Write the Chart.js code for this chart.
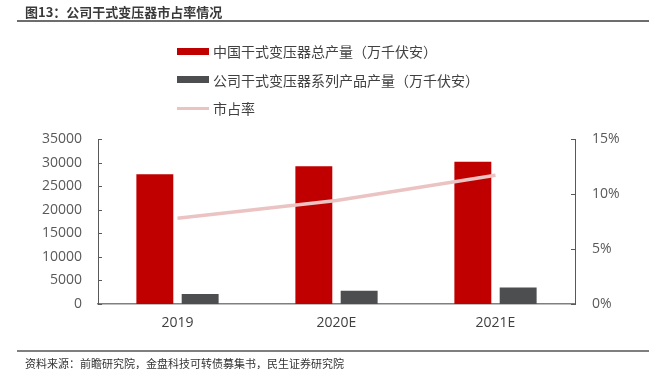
<!DOCTYPE html>
<html>
<head>
<meta charset="utf-8">
<script src="https://cdn.jsdelivr.net/npm/chart.js@4/dist/chart.umd.min.js"></script>
<style>
  html, body { margin: 0; padding: 0; background: #fff; }
  body { width: 649px; height: 369px; position: relative; overflow: hidden;
         font-family: "Noto Sans CJK SC", "Noto Sans", sans-serif; }
  #title { position: absolute; left: 25px; top: 2px; font-size: 13px; font-weight: bold; color: #3a3a3a; }
  #title-rule { position: absolute; left: 17px; right: 0; top: 20px; height: 2px; background: #6d6d6d; }
  #foot-rule { position: absolute; left: 17px; right: 0; top: 350px; height: 1.5px; background: #7f7f7f; }
  #foot { position: absolute; left: 25px; top: 355px; font-size: 11px; color: #333; }
  #legend { position: absolute; left: 177px; top: 37px; font-size: 14px; color: #404040; }
  #legend .row { height: 28.5px; display: flex; align-items: center; }
  #legend .sw { width: 32px; margin-right: 4px; }
  #wrap { position: absolute; left: 0; top: 0; width: 649px; height: 369px; }
</style>
</head>
<body>
<div id="wrap"><canvas id="c" width="649" height="369"></canvas></div>
<div id="title">图13：公司干式变压器市占率情况</div>
<div id="title-rule"></div>
<div id="legend"></div>
<div id="foot-rule"></div>
<div id="foot">资料来源：前瞻研究院，金盘科技可转债募集书，民生证券研究院</div>
<script>
// data
const years = ['2019', '2020E', '2021E'];
const chinaOutput = [27500, 29200, 30200];   // 中国干式变压器总产量（万千伏安）
const companyOutput = [2100, 2800, 3500];    // 公司干式变压器系列产品产量（万千伏安）
const marketShare = [7.8, 9.4, 11.7];        // 市占率 %
const names = ['中国干式变压器总产量（万千伏安）', '公司干式变压器系列产品产量（万千伏安）', '市占率'];

const RED = '#c00000', GREY = '#4d4e50', PINK = '#ebc3c3';

// small inward ticks on both y axes
const innerTicks = {
  id: 'innerTicks',
  afterDraw(chart) {
    const ctx = chart.ctx, area = chart.chartArea;
    ctx.save();
    ctx.strokeStyle = '#595959';
    ctx.lineWidth = 1;
    const y = chart.scales.y, y1 = chart.scales.y1;
    y.ticks.forEach(t => {
      const py = Math.round(y.getPixelForValue(t.value)) + 0.5;
      ctx.beginPath(); ctx.moveTo(area.left, py); ctx.lineTo(area.left + 4, py); ctx.stroke();
    });
    y1.ticks.forEach(t => {
      const py = Math.round(y1.getPixelForValue(t.value)) + 0.5;
      ctx.beginPath(); ctx.moveTo(area.right - 4, py); ctx.lineTo(area.right, py); ctx.stroke();
    });
    ctx.restore();
  }
};

const FONT = { family: '"Open Sans", "Noto Sans CJK SC", sans-serif', size: 14 };

new Chart(document.getElementById('c'), {
  data: {
    labels: years,
    datasets: [
      { type: 'line', label: names[2], data: marketShare, yAxisID: 'y1', borderColor: PINK,
        borderWidth: 3.5, pointRadius: 0, tension: 0, order: 0 },
      { type: 'bar', label: names[0], data: chinaOutput, yAxisID: 'y', backgroundColor: RED,
        categoryPercentage: 0.57, barPercentage: 0.815, order: 1 },
      { type: 'bar', label: names[1], data: companyOutput, yAxisID: 'y', backgroundColor: GREY,
        categoryPercentage: 0.57, barPercentage: 0.815, order: 1 },
    ],
  },
  options: {
    animation: false, responsive: false,
    layout: { padding: { top: 139, bottom: 0, left: 0, right: 0 } },
    plugins: { legend: { display: false }, tooltip: { enabled: false } },
    scales: {
      x: {
        grid: { display: false, drawTicks: false },
        border: { color: '#808080', width: 1.5 },
        ticks: { color: '#404040', font: FONT, padding: 11 },
        afterFit(s) { s.height = 65; },
      },
      y: {
        position: 'left', min: 0, max: 35000,
        grid: { display: false, drawTicks: false },
        border: { color: '#595959', width: 1 },
        ticks: { stepSize: 5000, color: '#595959', font: FONT, padding: 16, callback: v => String(v) },
        afterFit(s) { s.width = 98; },
      },
      y1: {
        position: 'right', min: 0, max: 15,
        grid: { display: false, drawTicks: false },
        border: { color: '#595959', width: 1 },
        ticks: { stepSize: 5, color: '#595959', font: FONT, padding: 17, callback: v => v + '%' },
        afterFit(s) { s.width = 74; },
      },
    },
  },
  plugins: [innerTicks],
});

// legend built from the same series names/colours
const leg = document.getElementById('legend');
[[names[0], RED, 'bar'], [names[1], GREY, 'bar'], [names[2], PINK, 'line']].forEach(([n, c, k]) => {
  const row = document.createElement('div'); row.className = 'row';
  const sw = document.createElement('span'); sw.className = 'sw';
  sw.style.background = c; sw.style.height = k === 'bar' ? '7px' : '3.5px';
  const tx = document.createElement('span'); tx.textContent = n;
  row.appendChild(sw); row.appendChild(tx); leg.appendChild(row);
});
</script>
</body>
</html>
